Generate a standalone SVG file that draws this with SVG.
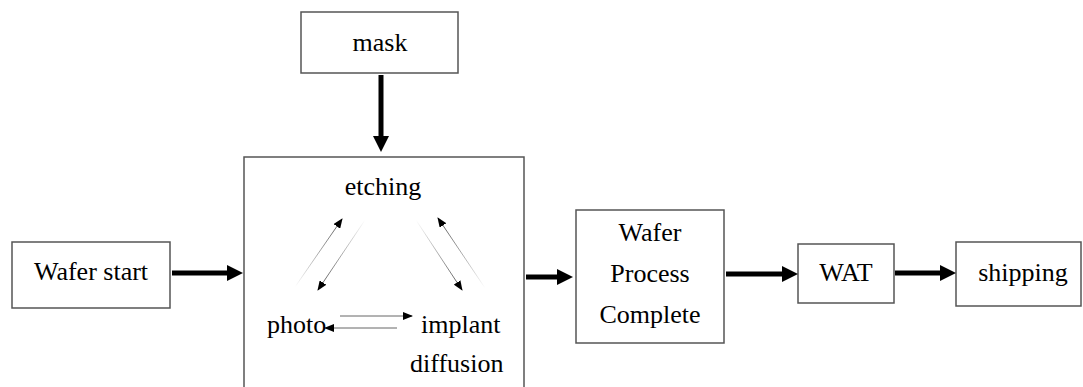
<svg xmlns="http://www.w3.org/2000/svg" width="1083" height="387" viewBox="0 0 1083 387">
<style>
.box{fill:#fff;stroke:#555;stroke-width:1.5}
.t{font-family:'Liberation Serif','Times New Roman',serif;font-size:26px;fill:#000}
.m{text-anchor:middle}
.thick{stroke:#000;stroke-width:5;fill:none}
.thin{stroke-width:1;fill:none}
</style>
<defs>
<marker id="big" markerUnits="userSpaceOnUse" markerWidth="16" markerHeight="16" refX="0" refY="8" orient="auto"><path d="M0,0 L16,8 L0,16 z" fill="#000"/></marker>
<marker id="small" markerUnits="userSpaceOnUse" markerWidth="10" markerHeight="8" refX="9" refY="4" orient="auto"><path d="M0,0 L10,4 L0,8 z" fill="#000"/></marker>
<linearGradient id="gL1" gradientUnits="userSpaceOnUse" x1="295" y1="287" x2="342" y2="219"><stop offset="0" stop-color="#fff"/><stop offset="1" stop-color="#555"/></linearGradient>
<linearGradient id="gL2" gradientUnits="userSpaceOnUse" x1="365" y1="220" x2="318" y2="290"><stop offset="0" stop-color="#fff"/><stop offset="1" stop-color="#555"/></linearGradient>
<linearGradient id="gR1" gradientUnits="userSpaceOnUse" x1="416" y1="220" x2="462" y2="290"><stop offset="0" stop-color="#fff"/><stop offset="1" stop-color="#555"/></linearGradient>
<linearGradient id="gR2" gradientUnits="userSpaceOnUse" x1="485" y1="288" x2="438" y2="218"><stop offset="0" stop-color="#fff"/><stop offset="1" stop-color="#555"/></linearGradient>
</defs>
<rect width="1083" height="387" fill="#fff"/>
<g id="mask"><rect class="box" x="301" y="12" width="157" height="61"/><text class="t m" x="380" y="51">mask</text></g>
<g id="process-loop"><rect class="box" x="244" y="157" width="280" height="240"/>
<text class="t m" x="383" y="195">etching</text>
<text class="t" x="267" y="333">photo</text>
<text class="t" x="421" y="333">implant</text>
<text class="t" x="410" y="372">diffusion</text></g>
<g id="wafer-start"><rect class="box" x="12" y="242" width="158" height="66"/><text class="t m" x="91" y="280">Wafer start</text></g>
<g id="wafer-process-complete"><rect class="box" x="576" y="210" width="148" height="133"/>
<text class="t m" x="650" y="241">Wafer</text><text class="t m" x="650" y="282">Process</text><text class="t m" x="650" y="323">Complete</text></g>
<g id="wat"><rect class="box" x="798" y="244" width="96" height="59"/><text class="t m" x="846" y="281">WAT</text></g>
<g id="shipping"><rect class="box" x="956" y="242" width="125" height="64"/><text class="t m" x="1023" y="281">shipping</text></g>
<g id="connectors">
<line class="thick" x1="381" y1="75" x2="381" y2="136" marker-end="url(#big)"/>
<line class="thick" x1="172" y1="273" x2="227" y2="273" marker-end="url(#big)"/>
<line class="thick" x1="526" y1="277" x2="557" y2="277" marker-end="url(#big)"/>
<line class="thick" x1="726" y1="274" x2="782" y2="274" marker-end="url(#big)"/>
<line class="thick" x1="895" y1="273" x2="940" y2="273" marker-end="url(#big)"/>
<line class="thin" stroke="url(#gL1)" x1="295" y1="287" x2="342" y2="219" marker-end="url(#small)"/>
<line class="thin" stroke="url(#gL2)" x1="365" y1="220" x2="318" y2="290" marker-end="url(#small)"/>
<line class="thin" stroke="url(#gR1)" x1="416" y1="220" x2="462" y2="290" marker-end="url(#small)"/>
<line class="thin" stroke="url(#gR2)" x1="485" y1="288" x2="438" y2="218" marker-end="url(#small)"/>
<line class="thin" stroke="#666" x1="340" y1="316" x2="412" y2="316" marker-end="url(#small)"/>
<line class="thin" stroke="#666" x1="397" y1="328" x2="325" y2="328" marker-end="url(#small)"/>
</g>
</svg>
